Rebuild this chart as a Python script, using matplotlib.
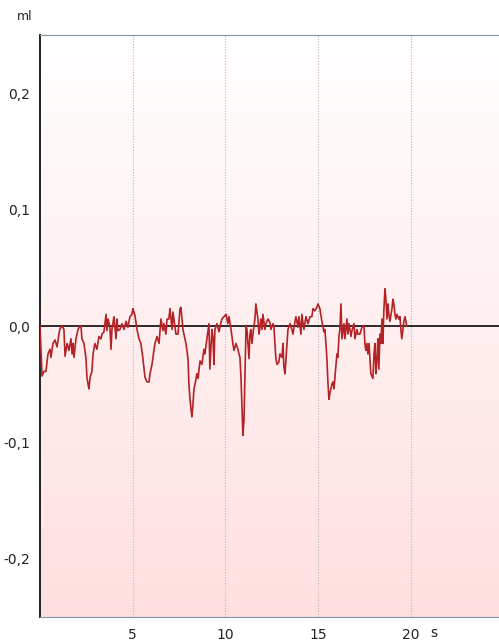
import numpy as np
import matplotlib
matplotlib.use('Agg')
import matplotlib.pyplot as plt

# --- volume trace (time in s, volume in ml) ---
time_s = [0.00, 0.05, 0.11, 0.22, 0.32, 0.43, 0.54, 0.59, 0.70, 0.81, 0.92, 1.02, 1.08, 1.19,
          1.29, 1.35, 1.46, 1.56, 1.67, 1.73, 1.78, 1.83, 1.94, 2.05, 2.16, 2.21, 2.26, 2.37,
          2.48, 2.53, 2.59, 2.64, 2.70, 2.80, 2.86, 2.96, 3.07, 3.18, 3.29, 3.34, 3.45, 3.56,
          3.61, 3.67, 3.77, 3.83, 3.88, 3.99, 4.10, 4.15, 4.20, 4.31, 4.42, 4.53, 4.64, 4.74,
          4.85, 4.96, 5.01, 5.12, 5.23, 5.34, 5.44, 5.55, 5.66, 5.77, 5.88, 5.93, 6.04, 6.15,
          6.20, 6.31, 6.42, 6.52, 6.63, 6.68, 6.79, 6.85, 6.95, 7.01, 7.12, 7.17, 7.28, 7.33,
          7.44, 7.55, 7.60, 7.71, 7.76, 7.87, 7.98, 8.03, 8.09, 8.14, 8.19, 8.25, 8.30, 8.36,
          8.46, 8.52, 8.63, 8.73, 8.84, 8.89, 9.00, 9.11, 9.16, 9.27, 9.33, 9.38, 9.43, 9.54,
          9.65, 9.76, 9.81, 9.92, 10.03, 10.13, 10.19, 10.30, 10.40, 10.46, 10.57, 10.67, 10.78,
          10.84, 10.89, 10.94, 11.00, 11.05, 11.11, 11.16, 11.21, 11.27, 11.32, 11.37, 11.43,
          11.48, 11.59, 11.64, 11.75, 11.81, 11.91, 11.97, 12.02, 12.13, 12.18, 12.29, 12.40,
          12.45, 12.56, 12.61, 12.72, 12.78, 12.88, 12.94, 13.05, 13.10, 13.15, 13.21, 13.32,
          13.37, 13.48, 13.58, 13.64, 13.75, 13.80, 13.91, 13.96, 14.07, 14.12, 14.23, 14.34,
          14.45, 14.56, 14.66, 14.72, 14.82, 14.93, 14.99, 15.09, 15.20, 15.31, 15.36, 15.42,
          15.47, 15.53, 15.58, 15.63, 15.74, 15.80, 15.85, 15.96, 16.01, 16.06, 16.12, 16.17,
          16.23, 16.28, 16.39, 16.44, 16.55, 16.60, 16.66, 16.77, 16.82, 16.93, 16.98, 17.09,
          17.14, 17.25, 17.36, 17.47, 17.52, 17.57, 17.63, 17.68, 17.74, 17.84, 17.95, 18.01,
          18.06, 18.11, 18.17, 18.22, 18.27, 18.33, 18.38, 18.44, 18.49, 18.54, 18.60, 18.65,
          18.71, 18.76, 18.81, 18.87, 18.98, 19.03, 19.08, 19.14, 19.19, 19.25, 19.35, 19.41,
          19.46, 19.51, 19.57, 19.62, 19.68, 19.78]
volume_ml = [0.000, -0.020, -0.043, -0.039, -0.039, -0.024, -0.020, -0.027, -0.015, -0.012, -0.018,
             -0.007, -0.002, 0.000, -0.003, -0.026, -0.015, -0.021, -0.011, -0.024, -0.015, -0.027,
             -0.011, -0.003, 0.000, 0.000, -0.011, -0.015, -0.028, -0.044, -0.050, -0.054, -0.044,
             -0.039, -0.024, -0.015, -0.020, -0.009, -0.011, -0.007, -0.005, 0.010, -0.004, 0.006,
             -0.001, -0.020, -0.003, 0.008, -0.011, 0.006, -0.004, -0.003, 0.002, -0.003, 0.004,
             -0.001, 0.008, 0.010, 0.015, 0.009, -0.003, -0.011, -0.015, -0.028, -0.044, -0.048,
             -0.048, -0.041, -0.033, -0.020, -0.015, -0.009, -0.015, 0.006, -0.004, 0.002, -0.007,
             0.006, 0.006, 0.015, -0.003, 0.012, -0.001, -0.007, -0.007, 0.015, 0.016, -0.003,
             -0.007, -0.015, -0.028, -0.050, -0.063, -0.071, -0.078, -0.067, -0.054, -0.050, -0.041,
             -0.045, -0.030, -0.033, -0.020, -0.024, -0.011, 0.002, -0.037, -0.003, -0.011, -0.033,
             -0.003, 0.002, -0.005, 0.003, 0.006, 0.008, 0.010, 0.002, 0.008, -0.003, -0.015,
             -0.021, -0.015, -0.020, -0.027, -0.045, -0.071, -0.094, -0.080, -0.045, 0.000, -0.003,
             -0.015, -0.028, -0.007, -0.003, -0.015, -0.007, 0.006, 0.019, 0.006, -0.007, 0.006,
             -0.003, 0.010, -0.003, 0.002, 0.006, 0.003, -0.003, 0.002, 0.000, -0.028, -0.033,
             -0.031, -0.024, -0.027, -0.015, -0.035, -0.041, -0.015, -0.003, 0.002, -0.003, -0.007,
             0.004, 0.008, -0.001, 0.008, -0.007, 0.010, -0.003, 0.008, 0.002, 0.008, 0.008,
             0.015, 0.013, 0.016, 0.019, 0.015, 0.004, -0.005, -0.003, -0.015, -0.028, -0.050,
             -0.063, -0.058, -0.050, -0.048, -0.054, -0.033, -0.024, -0.027, -0.009, -0.003, 0.019,
             -0.011, 0.002, -0.011, 0.006, -0.007, 0.002, -0.009, -0.004, 0.002, -0.011, -0.003,
             -0.007, -0.007, -0.001, 0.000, -0.015, -0.021, -0.015, -0.024, -0.015, -0.041, -0.045,
             -0.024, -0.015, -0.041, -0.028, -0.011, -0.037, -0.007, -0.015, 0.006, -0.015, 0.013,
             0.032, 0.023, 0.006, 0.019, 0.010, 0.004, 0.015, 0.023, 0.019, 0.010, 0.006, 0.010,
             0.006, 0.008, -0.003, -0.011, -0.003, 0.004, 0.008, 0.000]

x_ticks = [5, 10, 15, 20]
y_ticks = [-0.2, -0.1, 0.0, 0.1, 0.2]
y_tick_labels = ['-0,2', '-0,1', '0,0', '0,1', '0,2']

fig = plt.figure(figsize=(4.99, 6.42), dpi=100)
ax = fig.add_axes([40 / 499, 25 / 642, 1 - 40 / 499, 582 / 642])

x_max = 24.75
y_min, y_max = -0.25, 0.25

# white (top) to pink (bottom) vertical gradient background
grad = np.linspace(0, 1, 256).reshape(-1, 1)
top_col = np.array([1.0, 1.0, 1.0])
bot_col = np.array([1.0, 0.875, 0.88])
img = top_col * (1 - grad[..., None]) + bot_col * grad[..., None]
ax.imshow(img, extent=[0, x_max, y_min, y_max], origin='upper', aspect='auto', zorder=0)

for xt in x_ticks:
    ax.axvline(xt, color='#b8b8b8', linestyle=(0, (1, 1.5)), linewidth=0.8, zorder=1)
ax.axhline(0, color='#1a1a1a', linewidth=1.3, zorder=2)

ax.plot(time_s, volume_ml, color='#b52226', linewidth=1.2, zorder=3)

ax.set_xlim(0, x_max)
ax.set_ylim(y_min, y_max)

ax.set_xticks(x_ticks)
ax.set_xticklabels([str(t) for t in x_ticks])
ax.set_yticks(y_ticks)
ax.set_yticklabels(y_tick_labels)
ax.tick_params(axis='both', length=0, labelsize=10, labelcolor='#222222')
ax.tick_params(axis='x', pad=8)
ax.tick_params(axis='y', pad=7)

ax.spines['left'].set_color('#222222')
ax.spines['left'].set_linewidth(1.4)
ax.spines['top'].set_color('#7e98a6')
ax.spines['bottom'].set_color('#7e98a6')
ax.spines['right'].set_visible(False)

fig.text(25 / 499, 1 - 16 / 642, 'ml', fontsize=9, color='#222222', ha='center', va='center')
fig.text(434 / 499, 1 - 633 / 642, 's', fontsize=10, color='#222222', ha='center', va='center')

fig.savefig('out.png', dpi=100)
